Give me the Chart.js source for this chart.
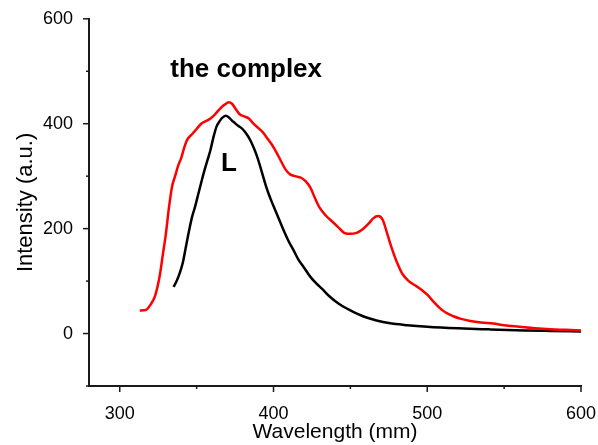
<!DOCTYPE html>
<html>
<head>
<meta charset="utf-8">
<script src="https://cdn.jsdelivr.net/npm/chart.js@4"></script>
<style>
  body { margin: 0; background: #fff; }
  #wrap { width: 598px; height: 445px; position: relative; }
</style>
</head>
<body>
<div id="wrap"><canvas id="spectrumChart"></canvas></div>
<script>
// Emission spectra
const complexWavelength = [313, 317, 320, 323, 326, 328, 330, 332, 334, 336, 338, 340, 342, 344, 347, 350, 353, 356, 359, 362, 365, 368, 371, 373, 375, 378, 381, 384, 387, 390, 393, 396, 399, 402, 405, 408, 411, 414, 418, 421, 424, 427, 430, 434, 438, 442, 446, 450, 454, 458, 462, 465, 468, 471, 474, 477, 480, 484, 488, 492, 496, 500, 504, 508, 512, 517, 522, 528, 535, 543, 550, 560, 570, 580, 590, 600];
const complexIntensity = [44, 45, 55, 72, 110, 150, 190, 240, 280, 300, 320, 335, 355, 370, 380, 390, 400, 405, 410, 418, 428, 436, 441, 438, 430, 418, 414, 410, 400, 392, 384, 372, 360, 345, 328, 312, 303, 300, 297, 290, 278, 258, 240, 225, 214, 203, 192, 190, 192, 199, 210, 220, 224, 217, 190, 162, 138, 113, 100, 92, 84, 74, 61, 49, 40, 33, 28, 24, 21, 19, 16, 13, 10, 8, 7, 6];

const ligandWavelength = [335, 337, 339, 341, 343, 345, 347, 349, 351, 353, 355, 357, 359, 361, 363, 365, 367, 369, 371, 373, 375, 377, 379, 381, 383, 385, 387, 389, 391, 393, 395, 397, 399, 401, 404, 407, 410, 413, 416, 420, 424, 428, 432, 436, 440, 445, 450, 455, 460, 467, 475, 487, 500, 520, 540, 563, 580, 600];
const ligandIntensity = [89, 100, 115, 135, 165, 195, 222, 242, 265, 288, 310, 330, 350, 375, 395, 405, 412, 415, 412, 406, 401, 396, 392, 386, 378, 368, 355, 340, 322, 302, 282, 265, 250, 236, 215, 194, 175, 159, 142, 125, 108, 95, 84, 72, 62, 52, 44, 37, 31, 25, 20, 16, 13, 10, 8, 6, 5, 4];

// Axis ticks
const xMajorTicks = [300, 400, 500, 600];
const xMinorTicks = [350, 450, 550];
const yMajorTicks = [0, 200, 400, 600];
const yMinorTicks = [-100, 100, 300, 500];

const FONT = '"Liberation Sans", Arial, Helvetica, sans-serif';

function toPoints(xs, ys) {
    return xs.map((x, i) => ({ x: x, y: ys[i] }));
}

// Draws outward tick marks and the two text labels
const decorPlugin = {
    id: 'decor',
    afterDraw: function(chart) {
        const ctx = chart.ctx;
        const x = chart.scales.x;
        const y = chart.scales.y;
        const area = chart.chartArea;
        ctx.save();
        ctx.strokeStyle = '#1a1a1a';
        ctx.lineWidth = 1.5;
        const mark = (x1, y1, x2, y2) => {
            ctx.beginPath();
            ctx.moveTo(x1, y1);
            ctx.lineTo(x2, y2);
            ctx.stroke();
        };
        xMajorTicks.forEach(v => { const p = x.getPixelForValue(v); mark(p, area.bottom, p, area.bottom + 6); });
        xMinorTicks.forEach(v => { const p = x.getPixelForValue(v); mark(p, area.bottom, p, area.bottom + 3); });
        yMajorTicks.forEach(v => { const p = y.getPixelForValue(v); mark(area.left - 6, p, area.left, p); });
        yMinorTicks.forEach(v => { const p = y.getPixelForValue(v); mark(area.left - 3, p, area.left, p); });

        ctx.fillStyle = '#000';
        ctx.font = 'bold 26px ' + FONT;
        ctx.textBaseline = 'alphabetic';
        ctx.textAlign = 'left';
        ctx.fillText('the complex', x.getPixelForValue(332.9), y.getPixelForValue(490));
        ctx.fillText('L', x.getPixelForValue(365.8), y.getPixelForValue(309));
        ctx.restore();
    }
};

const ctx = document.getElementById('spectrumChart').getContext('2d');
new Chart(ctx, {
    type: 'line',
    data: {
        datasets: [{
            label: 'the complex',
            data: toPoints(complexWavelength, complexIntensity),
            borderColor: '#ff0000',
            borderWidth: 2.5,
            pointRadius: 0,
            cubicInterpolationMode: 'monotone',
            fill: false
        }, {
            label: 'L',
            data: toPoints(ligandWavelength, ligandIntensity),
            borderColor: '#000000',
            borderWidth: 2.5,
            pointRadius: 0,
            cubicInterpolationMode: 'monotone',
            fill: false
        }]
    },
    options: {
        responsive: true,
        maintainAspectRatio: false,
        animation: false,
        layout: {
            padding: { top: 15, right: 17, bottom: 0, left: 0 }
        },
        plugins: {
            legend: { display: false },
            tooltip: { enabled: false }
        },
        scales: {
            x: {
                type: 'linear',
                min: 280,
                max: 600,
                afterBuildTicks: function(scale) {
                    scale.ticks = xMajorTicks.map(v => ({ value: v }));
                },
                afterFit: function(scale) {
                    scale.height = 59;
                    scale.paddingRight = 0;
                    scale.paddingLeft = 0;
                },
                grid: { display: false },
                border: { display: true, color: '#1a1a1a', width: 2 },
                ticks: {
                    color: '#000',
                    padding: 9,
                    maxRotation: 0,
                    font: { family: FONT, size: 18 }
                },
                title: {
                    display: true,
                    text: 'Wavelength (mm)',
                    color: '#000',
                    padding: 0,
                    font: { family: FONT, size: 21 }
                }
            },
            y: {
                type: 'linear',
                min: -100,
                max: 600,
                afterBuildTicks: function(scale) {
                    scale.ticks = yMajorTicks.map(v => ({ value: v }));
                },
                afterFit: function(scale) { scale.width = 89; },
                grid: { display: false },
                border: { display: true, color: '#1a1a1a', width: 2 },
                ticks: {
                    color: '#000',
                    padding: 8,
                    font: { family: FONT, size: 18 }
                },
                title: {
                    display: true,
                    text: 'Intensity (a.u.)',
                    color: '#000',
                    padding: { top: 13, bottom: 0 },
                    font: { family: FONT, size: 22 }
                }
            }
        }
    },
    plugins: [decorPlugin]
});
</script>
</body>
</html>
